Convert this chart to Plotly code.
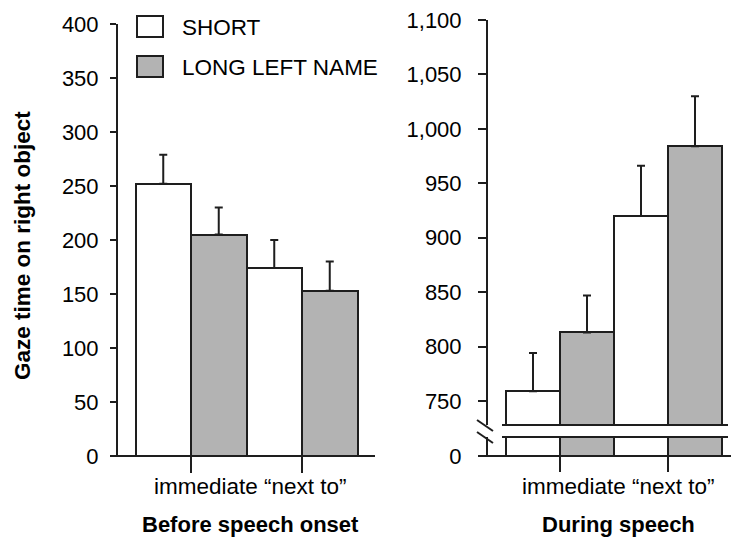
import plotly.graph_objects as go

W, H = 731, 539

# ---------------- data ----------------
categories = ["immediate", "\u201cnext to\u201d"]
series_names = ["SHORT", "LONG LEFT NAME"]

before_short = [252, 174]
before_short_err = [27, 26]
before_long = [205, 153]
before_long_err = [25, 27]

during_short = [759, 920]
during_short_err = [35, 46]
during_long = [813, 984]
during_long_err = [34, 46]

panel_titles = ["Before speech onset", "During speech"]
y_title = "Gaze time on right object"

left_ticks = [0, 50, 100, 150, 200, 250, 300, 350, 400]
right_ticks = [750, 800, 850, 900, 950, 1000, 1050, 1100]

# ---------------- style ----------------
FONT = "Liberation Sans, Arial, sans-serif"
LINE = "#1e1e1e"
FILLS = ["#ffffff", "#b3b3b3"]


def px(p):
    return p / W


def py(p):
    return 1 - p / H


fig = go.Figure()


def err(vals):
    return dict(type="data", array=vals, arrayminus=[0] * len(vals), symmetric=False,
                color=LINE, thickness=2, width=4)


# left panel
for name, vals, e, fill in [(series_names[0], before_short, before_short_err, FILLS[0]),
                            (series_names[1], before_long, before_long_err, FILLS[1])]:
    fig.add_trace(go.Bar(x=categories, y=vals, name=name, marker=dict(color=fill, line=dict(color=LINE, width=2)),
                         error_y=err(e), xaxis="x", yaxis="y", showlegend=False, offsetgroup=name))

# right panel - main part
for name, vals, e, fill in [(series_names[0], during_short, during_short_err, FILLS[0]),
                            (series_names[1], during_long, during_long_err, FILLS[1])]:
    fig.add_trace(go.Bar(x=categories, y=vals, name=name, marker=dict(color=fill, line=dict(color=LINE, width=2)),
                         error_y=err(e), xaxis="x2", yaxis="y2", showlegend=False, offsetgroup=name))
# right panel - lower stub below the break
for name, vals, fill in [(series_names[0], during_short, FILLS[0]),
                         (series_names[1], during_long, FILLS[1])]:
    fig.add_trace(go.Bar(x=categories, y=vals, name=name, marker=dict(color=fill, line=dict(color=LINE, width=2)),
                         xaxis="x2", yaxis="y3", showlegend=False, offsetgroup=name))

# axis geometry (pixels)
L_AX, L_RIGHT = 118, 375
L_C0, L_C1 = 191, 302
R_AX, R_RIGHT = 488, 731
R_C0, R_C1 = 560, 668
BASE = 456

lu = L_C1 - L_C0
ru = R_C1 - R_C0
left_range = [(L_AX - L_C0) / lu, (L_RIGHT - L_C0) / lu]
right_range = [(R_AX - R_C0) / ru, (R_RIGHT - R_C0) / ru]

tickfont = dict(family=FONT, size=22, color="#000")

# right main axis scale: 750 at px 401, 1100 at px 20
scale = (401 - 20) / 350.0
y2_bottom_px, y3_top_px = 425, 437
y2_min = 750 - (y2_bottom_px - 401) / scale
y3_max = (BASE - y3_top_px) / scale

common = dict(automargin=False, showgrid=False, zeroline=False)

fig.update_layout(
    width=W, height=H, autosize=False,
    margin=dict(l=0, r=0, t=0, b=0, pad=0, autoexpand=False),
    paper_bgcolor="white", plot_bgcolor="rgba(0,0,0,0)",
    barmode="group", bargap=0, bargroupgap=0,
    font=dict(family=FONT, size=22, color="#000"),
    xaxis=dict(domain=[px(L_AX), px(L_RIGHT)], range=left_range, anchor="y", showline=False,
               ticks="outside", ticklen=16, tickwidth=2, tickcolor=LINE, showticklabels=False, **common),
    yaxis=dict(domain=[py(BASE), py(24)], range=[0, 400], anchor="x",
               tickvals=left_ticks, showline=True, linecolor=LINE, linewidth=2,
               ticks="outside", ticklen=6, tickwidth=2, tickcolor=LINE,
               tickfont=tickfont, ticklabelstandoff=7, **common),
    xaxis2=dict(domain=[px(R_AX), 1.0], range=right_range, anchor="y3", showline=False,
                ticks="outside", ticklen=15, tickwidth=2, tickcolor=LINE, showticklabels=False, **common),
    yaxis2=dict(domain=[py(y2_bottom_px), py(20)], range=[y2_min, 1100], anchor="x2",
                tickvals=right_ticks, tickformat=",", showline=True, linecolor=LINE, linewidth=2,
                ticks="outside", ticklen=8, tickwidth=2, tickcolor=LINE,
                tickfont=tickfont, ticklabelstandoff=12, **common),
    yaxis3=dict(domain=[py(BASE), py(y3_top_px)], range=[0, y3_max], anchor="x2",
                tickvals=[0], showline=True, linecolor=LINE, linewidth=2,
                ticks="outside", ticklen=8, tickwidth=2, tickcolor=LINE,
                tickfont=tickfont, ticklabelstandoff=12, **common),
    showlegend=False,
)

shapes = []
line = dict(color=LINE, width=2)
# x axis baselines
shapes.append(dict(type="line", xref="paper", yref="paper", x0=px(113), x1=px(L_RIGHT), y0=py(BASE), y1=py(BASE), line=line))
shapes.append(dict(type="line", xref="paper", yref="paper", x0=px(480), x1=px(R_RIGHT), y0=py(BASE), y1=py(BASE), line=line))
# break edges across bars
for yy in (y2_bottom_px, y3_top_px):
    shapes.append(dict(type="line", xref="paper", yref="paper", x0=px(502), x1=px(728), y0=py(yy), y1=py(yy), line=line))
# break marks on axis
for y0 in (420, 432):
    shapes.append(dict(type="line", xref="paper", yref="paper", x0=px(477), x1=px(493), y0=py(y0), y1=py(y0 + 11), line=line))

# custom legend
leg = [(series_names[0], FILLS[0], 16, 37), (series_names[1], FILLS[1], 56, 77)]
annotations = []
for name, fill, t, b in leg:
    shapes.append(dict(type="rect", xref="paper", yref="paper", x0=px(137), x1=px(163), y0=py(b), y1=py(t),
                       fillcolor=fill, line=line))
    annotations.append(dict(text=name, xref="paper", yref="paper", x=px(180), y=py((t + b) / 2 + 1),
                            xanchor="left", yanchor="middle", showarrow=False,
                            font=dict(family=FONT, size=22.5, color="#000")))

cat_label = " ".join(categories)
for cx, title in [((L_C0 + L_C1) / 2 + 4, panel_titles[0]), ((R_C0 + R_C1) / 2 + 4, panel_titles[1])]:
    annotations.append(dict(text=cat_label, xref="paper", yref="paper", x=px(cx), y=py(486),
                            xanchor="center", yanchor="middle", showarrow=False,
                            font=dict(family=FONT, size=22.5, color="#000")))
    annotations.append(dict(text="<b>" + title + "</b>", xref="paper", yref="paper", x=px(cx), y=py(524),
                            xanchor="center", yanchor="middle", showarrow=False,
                            font=dict(family=FONT, size=22, color="#000")))

annotations.append(dict(text="<b>" + y_title + "</b>", xref="paper", yref="paper", x=px(23), y=py(246),
                        xanchor="center", yanchor="middle", textangle=-90, showarrow=False,
                        font=dict(family=FONT, size=22.5, color="#000")))

fig.update_layout(shapes=shapes, annotations=annotations)

fig.write_html("out.html", config={"responsive": False, "displayModeBar": False},
               post_script="document.body.style.margin='0';document.body.style.overflow='hidden';")
